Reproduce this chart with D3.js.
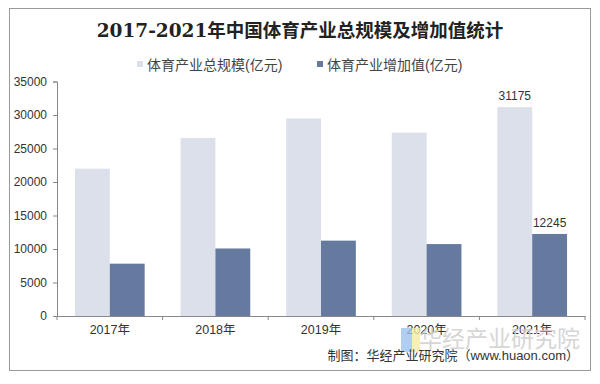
<!DOCTYPE html>
<html>
<head>
<meta charset="utf-8">
<script src="https://cdn.jsdelivr.net/npm/d3@7"></script>
<style>
  body{margin:0;background:#fff;}
  svg text{font-family:"Liberation Sans","Noto Sans CJK SC",sans-serif;}
</style>
</head>
<body>
<div id="chart"></div>
<script>
var years = ["2017年","2018年","2019年","2020年","2021年"];
var seriesNames = ["体育产业总规模(亿元)","体育产业增加值(亿元)"];
var totalScale = [21988,26579,29483,27372,31175];
var addedValue = [7811,10078,11248,10735,12245];
var yTicks = [0,5000,10000,15000,20000,25000,30000,35000];
var labelled = ["2021年"];
var colors = ["#dce0ea","#66799f"];

var W=600,H=384;
var svg = d3.select("#chart").append("svg").attr("width",W).attr("height",H);

// frame
svg.append("rect").attr("x",9.5).attr("y",8.5).attr("width",581).attr("height",362)
  .attr("fill","#fff").attr("stroke","#9a9a9a").attr("stroke-width",1);

// title
svg.append("text").attr("x",300).attr("y",37).attr("text-anchor","middle")
  .style("font-family",'"DejaVu Serif","Noto Sans CJK SC",serif')
  .style("font-size","18.5px").style("font-weight","bold").attr("fill","#222")
  .text("2017-2021年中国体育产业总规模及增加值统计");

var x0 = d3.scaleBand().domain(years).range([57,585]).paddingInner(0).paddingOuter(0);
var inner = 0.17;
var x1 = d3.scaleBand().domain([0,1]).range([x0.bandwidth()*inner, x0.bandwidth()*(1-inner)]);
var y = d3.scaleLinear().domain([0,35000]).range([316,81.5]);

// legend
var leg = svg.append("g");
var legX = [137,317];
seriesNames.forEach(function(n,i){
  leg.append("rect").attr("x",legX[i]).attr("y",61).attr("width",6).attr("height",6).attr("fill",colors[i]);
  leg.append("text").attr("x",legX[i]+10).attr("y",69.5)
    .style("font-size","14px").attr("fill","#444").text(n);
});

// bars
var rows = years.map(function(yr,i){return {year:yr, vals:[totalScale[i],addedValue[i]]};});
var g = svg.selectAll(".grp").data(rows).enter().append("g")
  .attr("class","grp").attr("transform",function(d){return "translate("+x0(d.year)+",0)";});
g.selectAll("rect").data(function(d){return d.vals.map(function(v,k){return {k:k,v:v,year:d.year};});})
  .enter().append("rect")
  .attr("x",function(d){return x1(d.k);})
  .attr("y",function(d){return y(d.v);})
  .attr("width",x1.bandwidth())
  .attr("height",function(d){return y(0)-y(d.v);})
  .attr("fill",function(d){return colors[d.k];});
g.selectAll(".val").data(function(d){
    return labelled.indexOf(d.year)>=0 ? d.vals.map(function(v,k){return {k:k,v:v};}) : [];})
  .enter().append("text")
  .attr("x",function(d){return x1(d.k)+x1.bandwidth()/2;})
  .attr("y",function(d){return y(d.v)-7;})
  .attr("text-anchor","middle").style("font-size","12px").attr("fill","#333")
  .text(function(d){return d.v;});

// y axis
var yAxis = svg.append("g").attr("transform","translate(57,0)")
  .call(d3.axisLeft(y).tickValues(yTicks).tickSize(4).tickPadding(6).tickFormat(d3.format("d")));
yAxis.select(".domain").attr("stroke","#888");
yAxis.selectAll(".tick line").attr("stroke","#888");
yAxis.selectAll("text").style("font-size","12px").attr("fill","#333");

// x axis
var xAxis = svg.append("g").attr("transform","translate(0,316)")
  .call(d3.axisBottom(x0).tickSize(0).tickPadding(9));
xAxis.select(".domain").attr("stroke","#888");
xAxis.selectAll("text").style("font-size","12.5px").attr("fill","#333");
var seps = x0.domain().map(function(d){return x0(d);}).concat([x0.range()[1]]);
xAxis.selectAll(".sep").data(seps).enter().append("line")
  .attr("x1",function(d){return d;}).attr("x2",function(d){return d;})
  .attr("y1",0).attr("y2",4).attr("stroke","#888");

// watermark / source
svg.append("rect").attr("x",401).attr("y",328).attr("width",11).attr("height",24).attr("fill","#9cc2ee").attr("opacity",0.8);
svg.append("rect").attr("x",412).attr("y",328).attr("width",8).attr("height",24).attr("fill","#f4eba4").attr("opacity",0.8);
svg.append("text").attr("x",580).attr("y",347).attr("text-anchor","end")
  .style("font-family",'"Noto Sans CJK SC",sans-serif')
  .style("font-size","23px").attr("fill","#cfcfcf").attr("opacity",0.85).text("华经产业研究院");
svg.append("text").attr("x",579).attr("y",360).attr("text-anchor","end")
  .style("font-size","13px").attr("fill","#333").text("制图：华经产业研究院（www.huaon.com）");
</script>
</body>
</html>
